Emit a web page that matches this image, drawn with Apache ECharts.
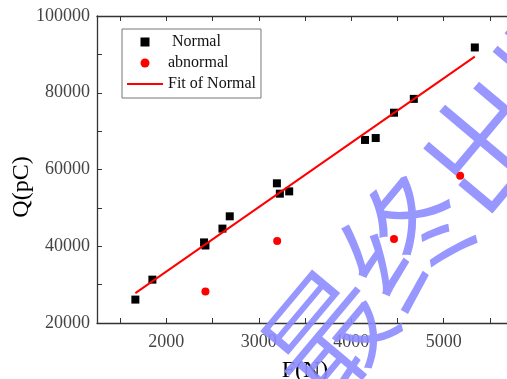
<!DOCTYPE html>
<html>
<head>
<meta charset="utf-8">
<script src="https://cdn.jsdelivr.net/npm/echarts@6/dist/echarts.min.js"></script>
<style>
  html, body { margin: 0; padding: 0; background: #fff; }
  #main { width: 507px; height: 379px; }
</style>
</head>
<body>
<div id="main"></div>
<script>
// values
const normalF = [1665, 1849, 2408, 2423, 2607, 2686, 3196, 3228, 3329, 4149, 4265, 4463, 4677, 5337];
const normalQ = [26100, 31300, 41000, 40200, 44600, 47800, 56400, 53700, 54300, 67700, 68200, 74800, 78400, 91800];
const abnormalF = [2423, 3199, 4463, 5178];
const abnormalQ = [28200, 41400, 41900, 58400];
const fitF = [1665, 5337];
const fitQ = [27800, 89400];
const xTicks = [1500, 2000, 2500, 3000, 3500, 4000, 4500, 5000, 5500];
const xLabels = [2000, 3000, 4000, 5000];

const serif = 'Liberation Serif';
const pairs = (xs, ys) => xs.map((x, i) => [x, ys[i]]);

const chart = echarts.init(document.getElementById('main'));

const xCommon = {
  type: 'value',
  min: 1250,
  max: 5750,
  splitLine: { show: false },
  axisLine: { lineStyle: { color: '#333', width: 1.3 } },
  axisTick: { inside: true, length: 5, customValues: xTicks, lineStyle: { color: '#333' } }
};

chart.setOption({
  animation: false,
  grid: { left: 97, right: -6, top: 16, bottom: 56, outerBoundsMode: 'none' },
  legend: {
    orient: 'vertical',
    left: 122,
    top: 29,
    itemWidth: 36,
    itemHeight: 9,
    itemGap: 5,
    padding: [5, 5, 6, 5],
    borderColor: '#777',
    borderWidth: 1,
    symbolKeepAspect: true,
    textStyle: { fontFamily: serif, fontSize: 16, color: '#111', lineHeight: 16 },
    formatter: name => name === 'Normal' ? ' Normal' : name,
    data: [
      { name: 'Normal', icon: 'path://M0,0h10v10H0z' },
      { name: 'abnormal', icon: 'circle' },
      { name: 'Fit of Normal', icon: 'path://M0,0h36v2H0z' }
    ]
  },
  xAxis: [
    Object.assign({}, xCommon, {
      position: 'bottom',
      name: 'F(N)',
      nameLocation: 'middle',
      nameGap: 36,
      nameTextStyle: { fontFamily: serif, fontSize: 24, color: '#000' },
      axisLabel: {
        customValues: xLabels,
        margin: 10,
        fontFamily: serif,
        fontSize: 18,
        color: '#444',
        formatter: v => String(v)
      }
    }),
    Object.assign({}, xCommon, {
      position: 'top',
      axisLabel: { show: false }
    })
  ],
  yAxis: {
    type: 'value',
    min: 20000,
    max: 100000,
    interval: 10000,
    splitLine: { show: false },
    axisLine: { show: true, lineStyle: { color: '#333', width: 1.3 } },
    axisTick: { inside: true, length: 5, lineStyle: { color: '#333' } },
    axisLabel: {
      margin: 7,
      fontFamily: serif,
      fontSize: 18,
      color: '#444',
      formatter: v => (v % 20000 === 0 ? String(v) : '')
    }
  },
  graphic: [
    {
      type: 'text',
      x: 22,
      y: 187,
      rotation: Math.PI / 2,
      style: {
        text: 'Q(pC)',
        fontFamily: serif,
        fontSize: 24,
        fill: '#000',
        textAlign: 'center',
        textVerticalAlign: 'middle'
      }
    },
    {
      type: 'text',
      x: 446,
      y: 192,
      z: 100,
      rotation: 50 * Math.PI / 180,
      style: {
        text: '最终出版',
        fontFamily: 'Noto Sans CJK SC',
        fontWeight: 350,
        fontSize: 124,
        fill: 'rgba(140,140,255,0.9)',
        textAlign: 'center',
        textVerticalAlign: 'middle'
      }
    }
  ],
  series: [
    {
      name: 'Normal',
      type: 'scatter',
      symbol: 'rect',
      symbolSize: 8,
      itemStyle: { color: '#000', opacity: 1 },
      data: pairs(normalF, normalQ)
    },
    {
      name: 'abnormal',
      type: 'scatter',
      symbol: 'circle',
      symbolSize: 8,
      itemStyle: { color: '#ff0000', opacity: 1 },
      data: pairs(abnormalF, abnormalQ)
    },
    {
      name: 'Fit of Normal',
      type: 'line',
      symbol: 'none',
      lineStyle: { color: '#ff0000', width: 2 },
      itemStyle: { color: '#ff0000' },
      data: pairs(fitF, fitQ)
    }
  ]
});
</script>
</body>
</html>
